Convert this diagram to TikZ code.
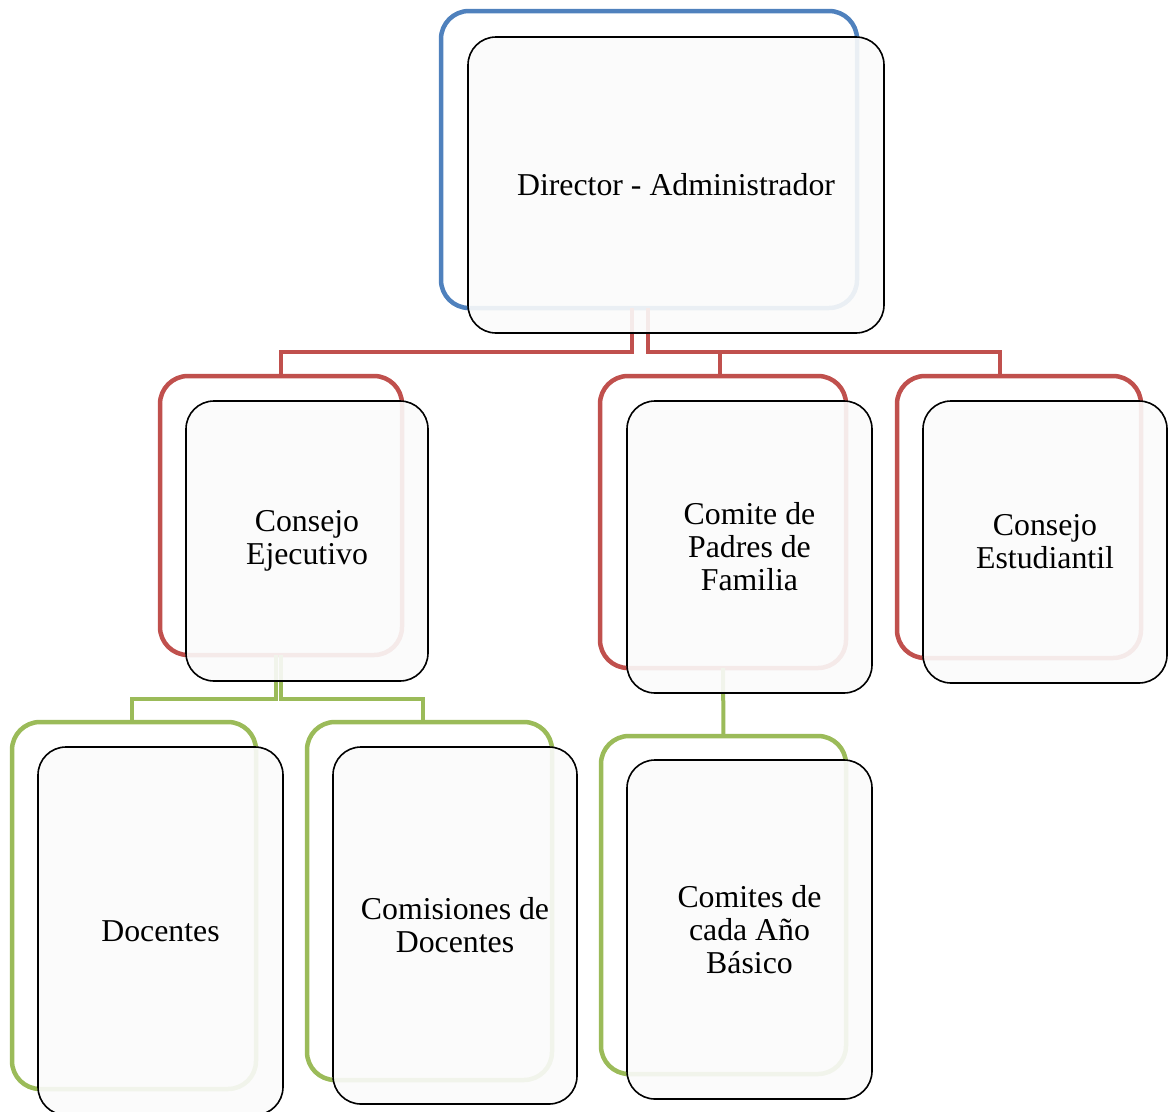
\documentclass[tikz,border=0pt]{standalone}
\usepackage{fontspec}
\setmainfont{Liberation Serif}
\definecolor{cblue}{HTML}{4F81BD}
\definecolor{cred}{HTML}{C0504D}
\definecolor{cgreen}{HTML}{9BBB59}
\definecolor{cfill}{HTML}{FBFBFB}
\begin{document}
\begin{tikzpicture}[x=1pt,y=-1pt,
  backbox/.style={draw=#1, line width=4.5pt, rectangle, rounded corners=28pt, inner sep=0pt, outer sep=0pt},
  frontbox/.style={draw=black, line width=1.6pt, fill=cfill, fill opacity=0.9, text opacity=1, rectangle, rounded corners=28pt, inner sep=0pt, outer sep=0pt, align=center, font=\fontsize{31.8}{33}\selectfont},
  conn/.style={draw=#1, line width=4pt}
]
\useasboundingbox (0,0) rectangle (1175,1111);
\clip (0,0) rectangle (1175,1111);

% back boxes as coordinates for connectors (nodes drawn later)
\path
  (649,159.5) coordinate (dirC)
  (281,515.5) coordinate (ceC)
  (723,522) coordinate (cpC)
  (1019,517) coordinate (csC)
  (134,905.5) coordinate (docC)
  (429.5,901) coordinate (comC)
  (723.5,905) coordinate (caC);

\node[backbox=cblue, minimum width=416pt, minimum height=297pt] (dirB) at (dirC) {};
\node[backbox=cred, minimum width=242pt, minimum height=279pt] (ceB) at (ceC) {};
\node[backbox=cred, minimum width=246pt, minimum height=292pt] (cpB) at (cpC) {};
\node[backbox=cred, minimum width=244pt, minimum height=282pt] (csB) at (csC) {};
\node[backbox=cgreen, minimum width=244pt, minimum height=367pt] (docB) at (docC) {};
\node[backbox=cgreen, minimum width=245pt, minimum height=358pt] (comB) at (comC) {};
\node[backbox=cgreen, minimum width=245pt, minimum height=338pt] (caB) at (caC) {};

% connectors
\draw[conn=cred] ([xshift=-17pt]dirB.south) -- ++(0,44) -| (ceB.north);
\draw[conn=cred] ([xshift=-1pt]dirB.south) -- ++(0,44) -| ([xshift=-19pt]csB.north);
\draw[conn=cred] ([xshift=-3pt]cpB.north) -- ++(0,-24);
\draw[conn=cgreen] ([xshift=-5pt]ceB.south) -- ++(0,44) -| ([xshift=-2pt]docB.north);
\draw[conn=cgreen] (ceB.south) -- ++(0,44) -| ([xshift=-6.5pt]comB.north);
\draw[conn=cgreen] (cpB.south) -- (caB.north);

% front boxes
\node[frontbox, minimum width=416pt, minimum height=296pt] (dirF) at (676,185) {Director - Administrador};
\node[frontbox, minimum width=242pt, minimum height=280pt] (ceF) at (307,541) {Consejo\\Ejecutivo};
\node[frontbox, minimum width=245pt, minimum height=292pt] (cpF) at (749.5,547) {Comite de\\Padres de\\Familia};
\node[frontbox, minimum width=244pt, minimum height=282pt] (csF) at (1045,542) {Consejo\\Estudiantil};
\node[frontbox, minimum width=245pt, minimum height=368pt] (docF) at (160.5,931) {Docentes};
\node[frontbox, minimum width=244pt, minimum height=357pt] (comF) at (455,925.5) {Comisiones de\\Docentes};
\node[frontbox, minimum width=245pt, minimum height=339pt] (caF) at (749.5,929.5) {Comites de\\cada Año\\Básico};
\end{tikzpicture}
\end{document}
